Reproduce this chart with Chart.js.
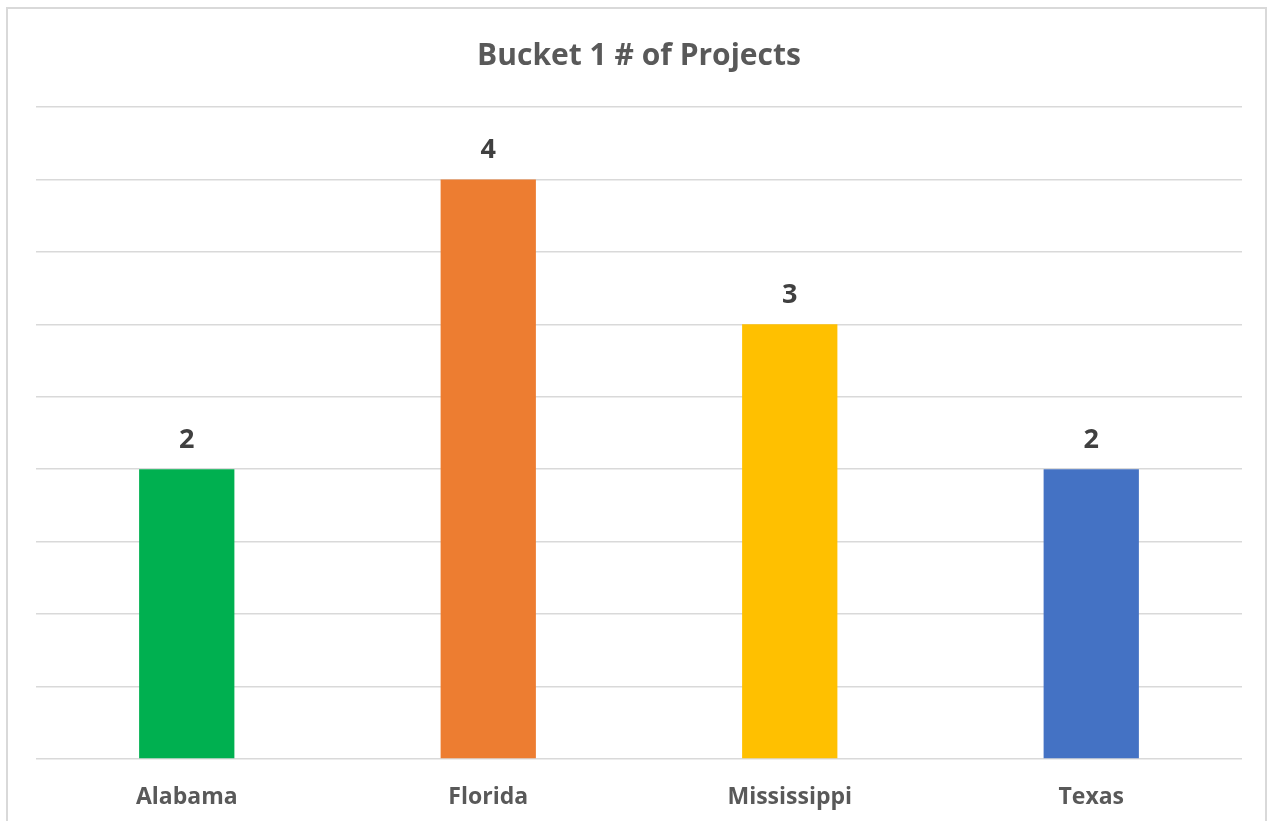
<!DOCTYPE html>
<html>
<head>
<meta charset="utf-8">
<script src="https://cdn.jsdelivr.net/npm/chart.js@4"></script>
<style>
  html, body { margin: 0; padding: 0; background: #fff; overflow: hidden; }
  #wrap { position: relative; width: 1271px; height: 821px; }
  #frame { position: absolute; left: 6px; top: 7px; width: 1261px; height: 830px; border: 2px solid #d9d9d9; box-sizing: border-box; pointer-events: none; }
  canvas { position: absolute; left: 0; top: 0; }
</style>
</head>
<body>
<div id="wrap">
  <canvas id="c" width="1271" height="821"></canvas>
  <div id="frame"></div>
</div>
<script>
const categories = ["Alabama", "Florida", "Mississippi", "Texas"];
const projectCounts = [2, 4, 3, 2];
const barColors = ["#00b050", "#ed7d31", "#ffc000", "#4472c4"];
const chartTitle = "Bucket 1 # of Projects";

const FONT = "'Open Sans', Lato, sans-serif";

const dataLabels = {
  id: 'dataLabels',
  afterDatasetsDraw(chart) {
    const ctx = chart.ctx;
    const meta = chart.getDatasetMeta(0);
    ctx.save();
    ctx.font = "bold 27px " + FONT;
    ctx.fillStyle = "#404040";
    ctx.textAlign = "center";
    ctx.textBaseline = "middle";
    meta.data.forEach((bar, i) => {
      ctx.fillText(String(chart.data.datasets[0].data[i]), bar.x, bar.y - 29);
    });
    ctx.restore();
  }
};

new Chart(document.getElementById('c'), {
  type: 'bar',
  data: {
    labels: categories,
    datasets: [{
      data: projectCounts,
      backgroundColor: barColors,
      borderWidth: 0,
      categoryPercentage: 1,
      barPercentage: 0.316
    }]
  },
  options: {
    responsive: false,
    animation: false,
    layout: { padding: { left: 36, right: 29, top: 0, bottom: 0 } },
    plugins: {
      legend: { display: false },
      tooltip: { enabled: false },
      title: {
        display: true,
        text: chartTitle,
        color: "#595959",
        font: { family: FONT, size: 30, weight: 'bold' },
        padding: { top: 38, bottom: 33 }
      }
    },
    scales: {
      x: {
        grid: { display: false },
        border: { display: false },
        ticks: {
          color: "#595959",
          font: { family: FONT, size: 23, weight: 'bold' },
          padding: 17,
          maxRotation: 0
        },
        afterFit(scale) { scale.height = 62; }
      },
      y: {
        min: 0,
        max: 4.5,
        ticks: { display: false, stepSize: 0.5 },
        grid: { color: "#d9d9d9", lineWidth: 1.5, drawTicks: false },
        border: { display: false },
        afterFit(scale) { scale.width = 0; }
      }
    }
  },
  plugins: [dataLabels]
});
</script>
</body>
</html>
